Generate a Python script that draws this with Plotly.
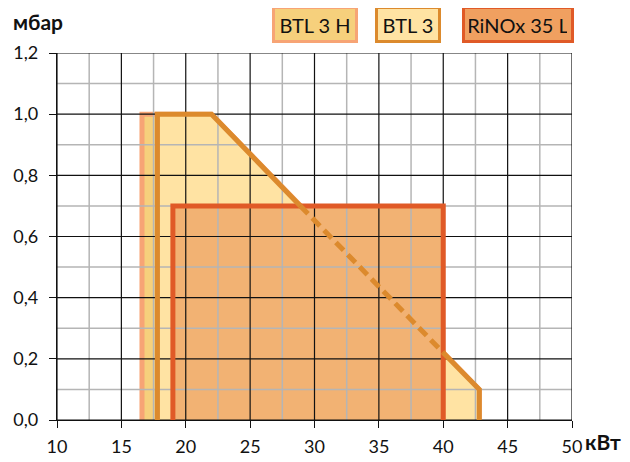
import numpy as np
import plotly.graph_objects as go

# ---- data ----
btl3h_x = [16.6, 16.6, 22.0, 28.9, 40.0, 42.8, 42.8]
btl3h_y = [0.0, 1.0, 1.0, 0.7, 0.22, 0.1, 0.0]

btl3_x = [17.8, 17.8, 22.0, 28.9, 40.0, 42.8, 42.8]
btl3_y = [0.0, 1.0, 1.0, 0.7, 0.22, 0.1, 0.0]

rinox_x = [19.0, 19.0, 40.0, 40.0]
rinox_y = [0.0, 0.7, 0.7, 0.0]

series_names = ["BTL 3 H", "BTL 3", "RiNOx 35 L"]

x_major = [10, 15, 20, 25, 30, 35, 40, 45, 50]
x_minor = [12.5, 17.5, 22.5, 27.5, 32.5, 37.5, 42.5, 47.5]
y_major = [0.0, 0.2, 0.4, 0.6, 0.8, 1.0, 1.2]
y_minor = [0.1, 0.3, 0.5, 0.7, 0.9, 1.1]
x_range = [10, 50]
y_range = [0, 1.2]

# ---- styles ----
C_H_LINE, C_H_FILL = "#F7A475", "#F6D07C"
C_3_LINE, C_3_FILL = "#DC8A2D", "#FFE3A3"
C_R_LINE, C_R_FILL, C_R_LEG = "#E05A27", "#F2B273", "#F0A060"
FONT = "Lato"
TXT = "#111111"

fig = go.Figure()

def fill_trace(x, y, color):
    return go.Scatter(x=x, y=y, mode="lines", fill="toself", fillcolor=color,
                      line=dict(width=0, color=color), hoverinfo="skip", showlegend=False)

def line_trace(x, y, color, width=5, dash="solid"):
    return go.Scatter(x=x, y=y, mode="lines", line=dict(color=color, width=width, dash=dash),
                      hoverinfo="skip", showlegend=False)

def grid_trace(vals, vertical, color, width):
    xs, ys = [], []
    for v in vals:
        if vertical:
            xs += [v, v, None]; ys += [y_range[0], y_range[1], None]
        else:
            xs += [x_range[0], x_range[1], None]; ys += [v, v, None]
    return go.Scatter(x=xs, y=ys, mode="lines", line=dict(color=color, width=width),
                      hoverinfo="skip", showlegend=False)

# fills and under-borders
fig.add_trace(fill_trace(btl3h_x, btl3h_y, C_H_FILL))
fig.add_trace(line_trace(btl3h_x, btl3h_y, C_H_LINE))
fig.add_trace(fill_trace(btl3_x, btl3_y, C_3_FILL))
fig.add_trace(fill_trace(rinox_x, rinox_y, C_R_FILL))

# grid above fills
fig.add_trace(grid_trace(x_minor, True, "#B5B5B5", 1.5))
fig.add_trace(grid_trace(y_minor, False, "#B5B5B5", 1.5))
fig.add_trace(grid_trace(x_major, True, "#111111", 1.2))
fig.add_trace(grid_trace(y_major, False, "#111111", 1.2))

# borders
fig.add_trace(line_trace(rinox_x, rinox_y, C_R_LINE))
fig.add_trace(line_trace(btl3_x[:4], btl3_y[:4], C_3_LINE))
fig.add_trace(line_trace(btl3_x[3:5], btl3_y[3:5], C_3_LINE, dash="11px,6px"))
fig.add_trace(line_trace(btl3_x[4:], btl3_y[4:], C_3_LINE))

# page has an 8px body margin: compensate so the plot lands where the reference has it
OFF = 8
W, H = 630 - OFF, 462 - OFF
PL, PR, PT, PB = 57, 572, 53, 420      # plot area in page pixels
ml, mt = PL - OFF, PT - OFF
mr, mb = W - ml - (PR - PL), H - mt - (PB - PT)

def px(xp):
    return (xp - PL) / (PR - PL)

def py(yp):
    return (PB - yp) / (PB - PT)

legend_specs = [
    (series_names[0], 314.5, 72, C_H_FILL, C_H_LINE),
    (series_names[1], 408.0, 52, C_3_FILL, C_3_LINE),
    (series_names[2], 518.3, 98, C_R_LEG, C_R_LINE),
]
annotations = []
for name, cx, w, bg, bc in legend_specs:
    annotations.append(dict(
        text=name, xref="paper", yref="paper", x=px(cx), y=py(25),
        xanchor="center", yanchor="middle", showarrow=False,
        font=dict(family=FONT, size=20, color=TXT),
        bgcolor=bg, bordercolor=bc, borderwidth=3, borderpad=4,
        width=w, height=23,
    ))

annotations.append(dict(text="<b>мбар</b>", xref="paper", yref="paper", x=px(11), y=py(21),
                        xanchor="left", yanchor="middle", showarrow=False,
                        font=dict(family=FONT, size=21, color=TXT)))
annotations.append(dict(text="<b>кВт</b>", xref="paper", yref="paper", x=px(583), y=py(441),
                        xanchor="left", yanchor="middle", showarrow=False,
                        font=dict(family=FONT, size=21, color=TXT)))

axis_common = dict(showgrid=False, zeroline=False, showline=True, linecolor=TXT, linewidth=1.2,
                   ticks="outside", ticklen=7, tickcolor=TXT, tickwidth=1.2, automargin=False,
                   tickfont=dict(family=FONT, size=18, color=TXT), fixedrange=True)

fig.update_layout(
    width=W, height=H,
    margin=dict(l=ml, r=mr, t=mt, b=mb, pad=0, autoexpand=False),
    paper_bgcolor="white", plot_bgcolor="white",
    separators=",.",
    showlegend=False,
    annotations=annotations,
    xaxis=dict(range=x_range, tickvals=x_major, ticklabelstandoff=3, **axis_common),
    yaxis=dict(range=y_range, tickvals=y_major, tickformat=".1f", ticklabelstandoff=7,
               **axis_common),
)

fig.write_html("out.html", config={"displayModeBar": False})
